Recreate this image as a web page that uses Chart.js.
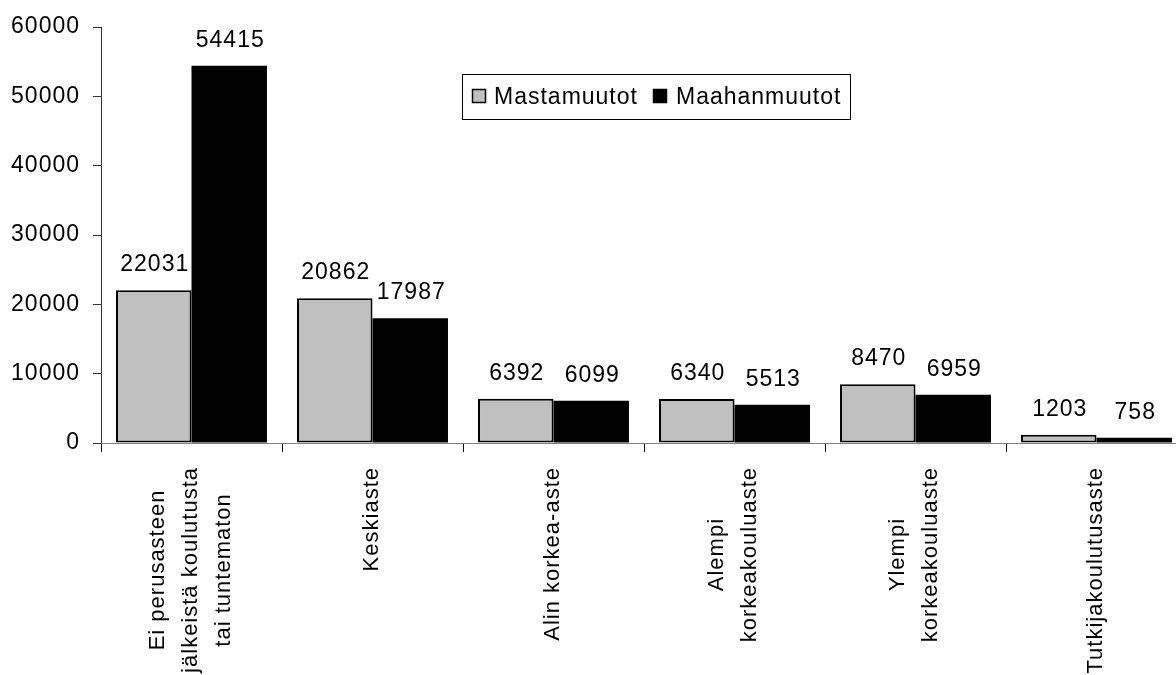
<!DOCTYPE html>
<html>
<head>
<meta charset="utf-8">
<script src="https://cdn.jsdelivr.net/npm/chart.js@4/dist/chart.umd.min.js"></script>
<style>
  html, body { margin: 0; padding: 0; background: #fff; overflow: hidden; }
  #wrap { position: absolute; left: 0; top: 0; width: 1188px; height: 675px; }
</style>
</head>
<body>
<div id="wrap"><canvas id="chart"></canvas></div>
<script>
const categories = [
    ['Ei perusasteen', 'jälkeistä koulutusta', 'tai tuntematon'],
    ['Keskiaste'],
    ['Alin korkea-aste'],
    ['Alempi', 'korkeakouluaste'],
    ['Ylempi', 'korkeakouluaste'],
    ['Tutkijakoulutusaste'],
]
const mastamuutot = [22031, 20862, 6392, 6340, 8470, 1203]
const maahanmuutot = [54415, 17987, 6099, 5513, 6959, 758]
const yMin = 0
const yMax = 60000
const yStep = 10000

const FONT_SIZE = 23
const FAMILY = "'Liberation Sans', Arial, sans-serif"
const FONT = FONT_SIZE + 'px ' + FAMILY
const SPACING = '1px'

// excel text is a bit wider than plain arial
const spacingPlugin = {
    id: 'spacing',
    beforeUpdate(chart) { chart.ctx.letterSpacing = SPACING },
    beforeDraw(chart) { chart.ctx.letterSpacing = SPACING },
}

const valueLabels = {
    id: 'valueLabels',
    afterDatasetsDraw(chart) {
        const ctx = chart.ctx
        ctx.save()
        ctx.font = FONT
        ctx.fillStyle = '#000'
        ctx.textAlign = 'center'
        ctx.textBaseline = 'alphabetic'
        chart.data.datasets.forEach((ds, di) => {
            chart.getDatasetMeta(di).data.forEach((bar, i) => {
                ctx.fillText(String(ds.data[i]), bar.x + 1, bar.y - 19)
            })
        })
        ctx.restore()
    }
}

const xLabels = {
    id: 'xLabels',
    afterDraw(chart) {
        const ctx = chart.ctx
        const xs = chart.scales.x
        ctx.save()
        ctx.font = '22px ' + FAMILY
        ctx.fillStyle = '#000'
        ctx.textAlign = 'center'
        ctx.textBaseline = 'middle'
        categories.forEach((lines, i) => {
            const cx = xs.getPixelForValue(i)
            const w = Math.max(...lines.map(l => ctx.measureText(l).width))
            const cy = chart.chartArea.bottom + 24 + w / 2
            lines.forEach((line, j) => {
                const lx = cx + (j - (lines.length - 1) / 2) * 33 - 1
                ctx.save()
                ctx.translate(lx, cy)
                ctx.rotate(-Math.PI / 2)
                ctx.fillText(line, 0, 0)
                ctx.restore()
            })
        })
        ctx.restore()
    }
}

const boxLegend = {
    id: 'boxLegend',
    afterDraw(chart) {
        const ctx = chart.ctx
        ctx.save()
        ctx.strokeStyle = '#000'
        ctx.lineWidth = 1
        ctx.strokeRect(462.5, 74.5, 388, 45)
        ctx.font = FONT
        ctx.textBaseline = 'alphabetic'
        ctx.textAlign = 'left'
        const spots = [[472, 494], [653, 676]]
        chart.data.datasets.forEach((ds, i) => {
            const [sx, tx] = spots[i]
            ctx.fillStyle = ds.backgroundColor
            ctx.fillRect(sx, 89, 14, 14)
            ctx.strokeStyle = '#000'
            ctx.lineWidth = 1.5
            ctx.strokeRect(sx + 0.5, 89.5, 13, 13)
            ctx.fillStyle = '#000'
            ctx.fillText(ds.label, tx, 104)
        })
        ctx.restore()
    }
}

new Chart(document.getElementById('chart'), {
    type: 'bar',
    data: {
        labels: categories,
        datasets: [
            {
                label: 'Mastamuutot',
                data: mastamuutot,
                backgroundColor: '#c0c0c0',
                borderColor: '#000',
                borderWidth: 2,
                borderSkipped: false,
            },
            {
                label: 'Maahanmuutot',
                data: maahanmuutot,
                backgroundColor: '#000',
                borderColor: '#000',
                borderWidth: 0,
            },
        ]
    },
    options: {
        responsive: true,
        maintainAspectRatio: false,
        animation: false,
        layout: { padding: { top: 27, right: 1, left: 0, bottom: 0 } },
        datasets: { bar: { categoryPercentage: 0.834, barPercentage: 1 } },
        plugins: {
            legend: { display: false },
            tooltip: { enabled: false },
        },
        scales: {
            x: {
                offset: true,
                grid: { display: true, drawOnChartArea: false, offset: true, tickLength: 9, color: '#000' },
                border: { color: '#808080', width: 1 },
                ticks: { display: false },
                afterFit(scale) { scale.height = 232 },
            },
            y: {
                min: yMin,
                max: yMax,
                grid: { drawOnChartArea: false, tickLength: 8, color: '#333' },
                border: { color: '#333', width: 1 },
                ticks: {
                    stepSize: yStep,
                    padding: 13,
                    color: '#000',
                    font: { family: FAMILY, size: FONT_SIZE },
                    callback: v => String(v),
                },
                afterFit(scale) { scale.width = 101 },
            }
        }
    },
    plugins: [spacingPlugin, valueLabels, xLabels, boxLegend]
})
</script>
</body>
</html>
